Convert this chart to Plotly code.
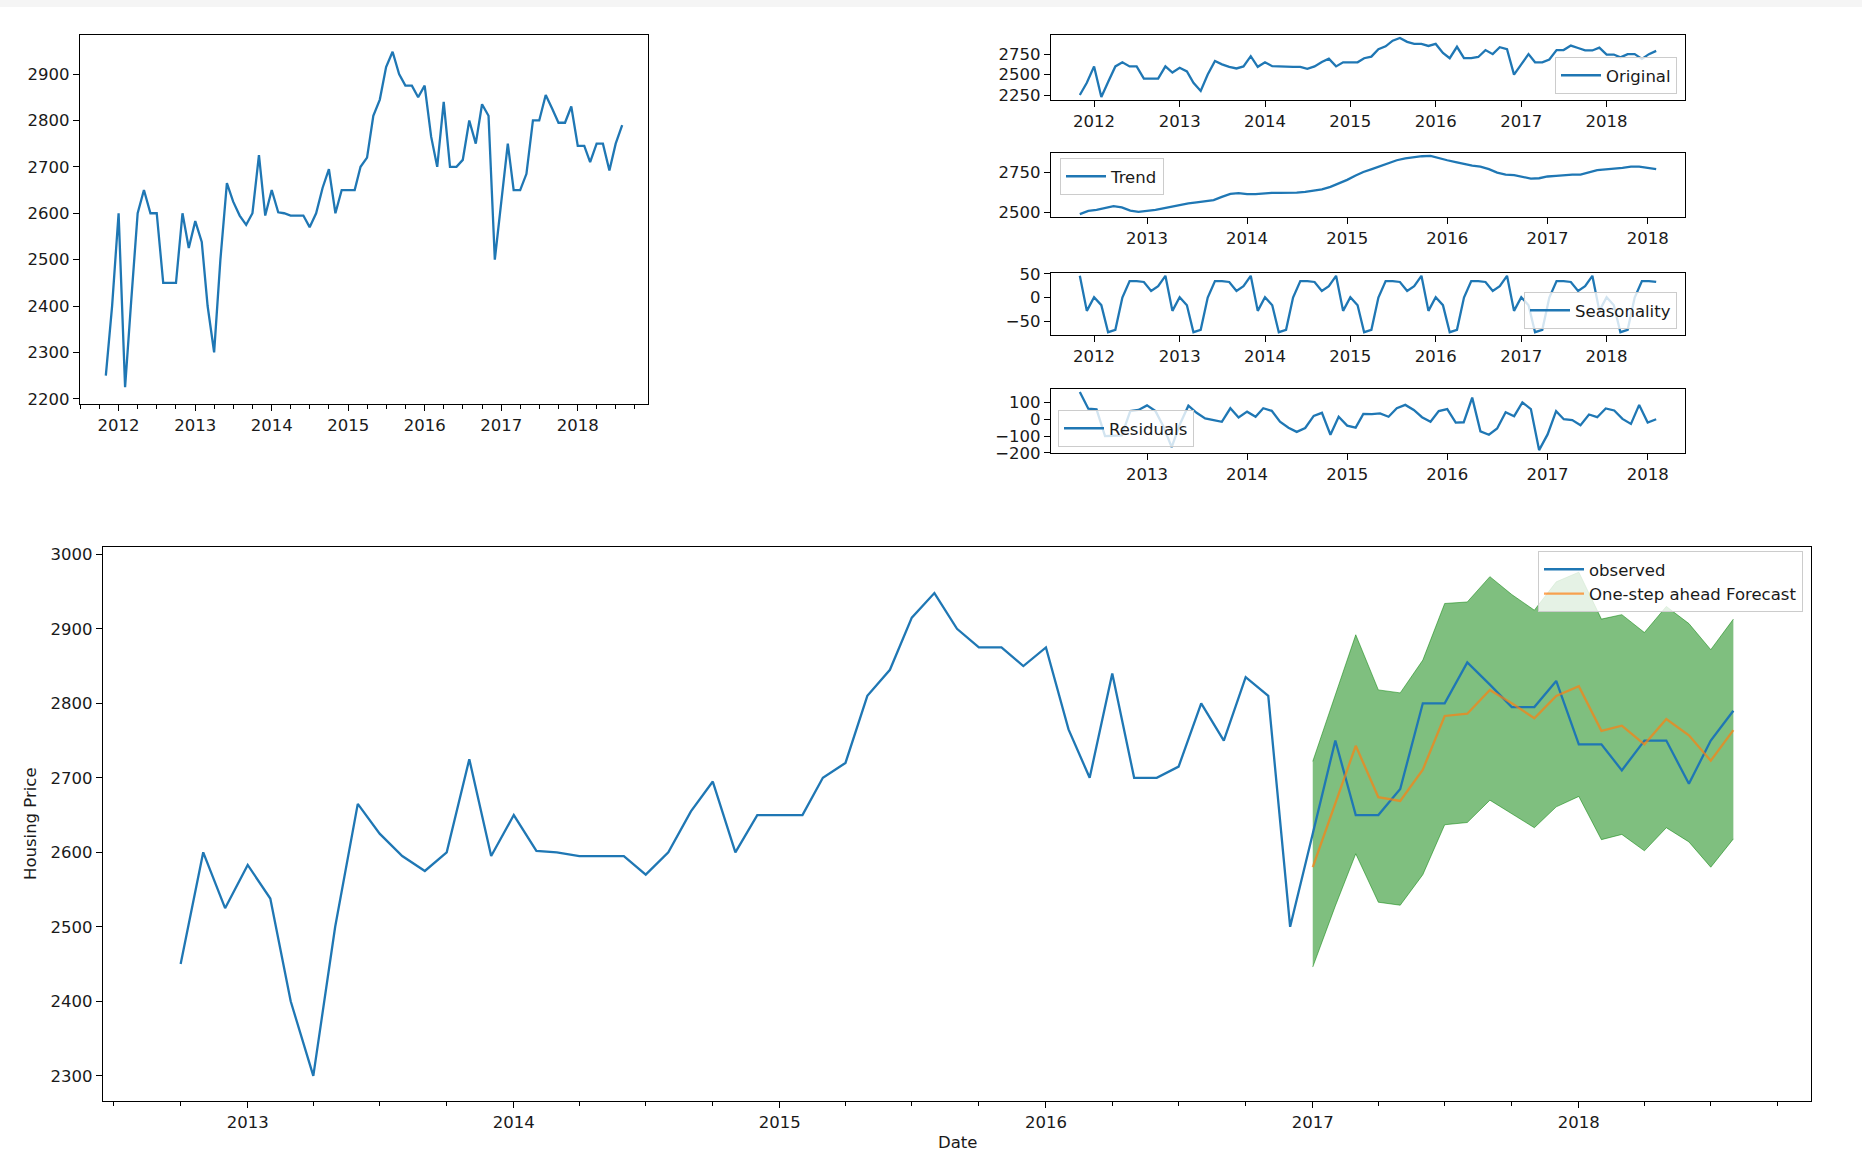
import pandas as pd
import plotly.graph_objects as go

# ---------------- data ----------------
obs_start, obs_end = "2011-11-01", "2018-08-01"
observed = [2250, 2400,
            2600, 2225, 2410, 2600, 2650, 2600, 2600, 2450, 2450, 2450, 2600, 2525,
            2583, 2538, 2400, 2300, 2500, 2665, 2625, 2595, 2575, 2600, 2725, 2595,
            2650, 2602, 2600, 2595, 2595, 2595, 2570, 2600, 2655, 2695, 2600, 2650,
            2650, 2650, 2700, 2720, 2810, 2845, 2915, 2948, 2900, 2875, 2875, 2850,
            2875, 2765, 2700, 2840, 2700, 2700, 2715, 2800, 2750, 2835, 2810, 2500,
            2625, 2750, 2650, 2650, 2685, 2800, 2800, 2855, 2825, 2795, 2795, 2830,
            2745, 2745, 2710, 2750, 2750, 2692, 2750, 2790]

trend_start, trend_end = "2012-05-01", "2018-02-01"
trend = [2490, 2510, 2516, 2526, 2540, 2532, 2512, 2504,
         2508, 2516, 2526, 2537, 2547, 2557, 2563, 2569, 2577, 2597, 2616, 2620,
         2614, 2614, 2618, 2622, 2622, 2622, 2624, 2628, 2634, 2644, 2659, 2679,
         2703, 2730, 2752, 2770, 2789, 2807, 2825, 2837, 2845, 2850, 2852, 2841,
         2825, 2813, 2801, 2791, 2785, 2770, 2748, 2736, 2732, 2722, 2711, 2713,
         2724, 2728, 2734, 2736, 2736, 2750, 2764, 2768, 2772, 2778, 2785, 2785,
         2778, 2770]

seasonal = [46, -28,
            1, -16, -73, -68, 0, 35, 35, 33, 14, 24, 46, -28,
            1, -16, -73, -68, 0, 35, 35, 33, 14, 24, 46, -28,
            1, -16, -73, -68, 0, 35, 35, 33, 14, 24, 46, -28,
            1, -16, -73, -68, 0, 35, 35, 33, 14, 24, 46, -28,
            1, -16, -73, -68, 0, 35, 35, 33, 14, 24, 46, -28,
            1, -16, -73, -68, 0, 35, 35, 33, 14, 24, 46, -28,
            1, -16, -73, -68, 0, 35, 35, 33]

residuals = [162, 62, 58, -100, -98, -96, 48, 55,
             82, 48, -40, -165, -30, 80, 38, 5, -5, -15, 65, 10,
             45, 15, 65, 50, -15, -50, -75, -52, 20, 38, -92, 15,
             -38, -50, 32, 30, 35, 15, 65, 85, 55, 12, -15, 48,
             60, -20, -18, 128, -72, -92, -55, 42, 18, 100, 60, -183,
             -90, 48, 0, -5, -36, 28, 12, 64, 52, 2, -28, 85,
             -20, 0]

fc_start, fc_end = "2017-01-01", "2018-08-01"
forecast = [2580, 2665, 2743, 2674, 2669, 2711, 2783, 2786, 2818, 2800, 2780, 2810,
            2823, 2763, 2770, 2745, 2779, 2757, 2723, 2764]
ci_lower = [2446, 2528, 2598, 2533, 2529, 2570, 2637, 2640, 2670, 2652, 2633, 2661,
            2675, 2617, 2624, 2602, 2633, 2614, 2580, 2618]
ci_upper = [2722, 2811, 2892, 2818, 2814, 2858, 2934, 2936, 2970, 2946, 2925, 2963,
            2976, 2913, 2919, 2895, 2930, 2907, 2872, 2913]

bottom_start = "2012-10-01"

# ---------------- helpers ----------------
obs_dates = pd.date_range(obs_start, obs_end, freq="MS")
trend_dates = pd.date_range(trend_start, trend_end, freq="MS")
fc_dates = pd.date_range(fc_start, fc_end, freq="MS")
obs_series = pd.Series(observed, index=obs_dates)
obs_bottom = obs_series[bottom_start:]

W, H = 1862, 1160


def dx(l, r):
    return [l / W, r / W]


def dy(t, b):
    return [1 - b / H, 1 - t / H]


def pad(lo, hi, f=0.05):
    s = hi - lo
    return [lo - f * s, hi + f * s]


def pad_dates(d0, d1, f=0.05):
    d0, d1 = pd.Timestamp(d0), pd.Timestamp(d1)
    s = d1 - d0
    return [(d0 - s * f).strftime("%Y-%m-%d %H:%M"), (d1 + s * f).strftime("%Y-%m-%d %H:%M")]


BLUE = "#1f77b4"
FONT = dict(family="DejaVu Sans", size=16.5, color="#1a1a1a")
LW = 2.3

fig = go.Figure()

# top-left
fig.add_trace(go.Scatter(x=obs_dates, y=observed, mode="lines", line=dict(color=BLUE, width=LW),
                         xaxis="x", yaxis="y", showlegend=False))
# decomposition panels
fig.add_trace(go.Scatter(x=obs_dates, y=observed, mode="lines", line=dict(color=BLUE, width=LW),
                         xaxis="x2", yaxis="y2", name="Original", legend="legend2"))
fig.add_trace(go.Scatter(x=trend_dates, y=trend, mode="lines", line=dict(color=BLUE, width=LW),
                         xaxis="x3", yaxis="y3", name="Trend", legend="legend3"))
fig.add_trace(go.Scatter(x=obs_dates, y=seasonal, mode="lines", line=dict(color=BLUE, width=LW),
                         xaxis="x4", yaxis="y4", name="Seasonality", legend="legend4"))
fig.add_trace(go.Scatter(x=trend_dates, y=residuals, mode="lines", line=dict(color=BLUE, width=LW),
                         xaxis="x5", yaxis="y5", name="Residuals", legend="legend5"))
# bottom forecast chart
fig.add_trace(go.Scatter(x=fc_dates, y=ci_lower, mode="lines", line=dict(color="rgba(0,128,0,0.5)", width=1),
                         xaxis="x6", yaxis="y6", showlegend=False))
fig.add_trace(go.Scatter(x=fc_dates, y=ci_upper, mode="lines", line=dict(color="rgba(0,128,0,0.5)", width=1),
                         fill="tonexty", fillcolor="rgba(0,128,0,0.5)",
                         xaxis="x6", yaxis="y6", showlegend=False))
fig.add_trace(go.Scatter(x=obs_bottom.index, y=obs_bottom.values, mode="lines",
                         line=dict(color=BLUE, width=LW), xaxis="x6", yaxis="y6",
                         name="observed", legend="legend"))
fig.add_trace(go.Scatter(x=fc_dates, y=forecast, mode="lines",
                         line=dict(color="rgba(255,127,14,0.7)", width=LW), xaxis="x6", yaxis="y6",
                         name="One-step ahead Forecast", legend="legend"))

axis_base = dict(showline=True, linecolor="black", linewidth=1.2, mirror=True,
                 ticks="outside", ticklen=6, tickwidth=1.2, tickcolor="black",
                 showgrid=False, zeroline=False, tickfont=FONT, fixedrange=True,
                 automargin=False)
minor = dict(ticks="outside", ticklen=3.5, tickwidth=0.9, tickcolor="black",
             dtick="M3", tick0="2012-01-01", showgrid=False)


def xdate(domain, rng, anchor, with_minor=False):
    d = dict(axis_base, type="date", domain=domain, range=rng, anchor=anchor,
             tickformat="%Y", dtick="M12", tick0="2012-01-01")
    if with_minor:
        d["minor"] = minor
    return d


def yax(domain, rng, anchor, dtick, tick0=0):
    return dict(axis_base, domain=domain, range=rng, anchor=anchor, dtick=dtick, tick0=tick0)


full_x = pad_dates(obs_start, obs_end)
trend_x = pad_dates(trend_start, trend_end)
bottom_x = pad_dates(bottom_start, obs_end)
obs_y = pad(min(observed), max(observed))
bot_y = pad(min(min(obs_bottom.values), min(ci_lower)), max(max(obs_bottom.values), max(ci_upper)))

TR_L, TR_R = 1051, 1685
leg = dict(bgcolor="rgba(255,255,255,0.8)", bordercolor="#cccccc", borderwidth=1,
           font=FONT, traceorder="normal", itemwidth=40)

fig.update_layout(
    template="none",
    width=W, height=H, margin=dict(l=0, r=0, t=0, b=0, pad=0, autoexpand=False),
    paper_bgcolor="white", plot_bgcolor="white",
    xaxis=xdate(dx(80, 648), full_x, "y", True),
    yaxis=yax(dy(35, 404), obs_y, "x", 100),
    xaxis2=xdate(dx(TR_L, TR_R), full_x, "y2"),
    yaxis2=yax(dy(35, 100), obs_y, "x2", 250),
    xaxis3=xdate(dx(TR_L, TR_R), trend_x, "y3"),
    yaxis3=yax(dy(153, 217), pad(min(trend), max(trend)), "x3", 250),
    xaxis4=xdate(dx(TR_L, TR_R), full_x, "y4"),
    yaxis4=yax(dy(273, 335), pad(min(seasonal), max(seasonal)), "x4", 50),
    xaxis5=xdate(dx(TR_L, TR_R), trend_x, "y5"),
    yaxis5=yax(dy(389, 453), pad(min(residuals), max(residuals)), "x5", 100),
    xaxis6=xdate(dx(103, 1811), bottom_x, "y6", True),
    yaxis6=yax(dy(547, 1101), bot_y, "x6", 100),
    legend=dict(leg, x=1803 / W, y=1 - 551 / H, xanchor="right", yanchor="top"),
    legend2=dict(leg, x=1677 / W, y=1 - 94 / H, xanchor="right", yanchor="bottom"),
    legend3=dict(leg, x=1060 / W, y=1 - 158 / H, xanchor="left", yanchor="top"),
    legend4=dict(leg, x=1677 / W, y=1 - 329 / H, xanchor="right", yanchor="bottom"),
    legend5=dict(leg, x=1058 / W, y=1 - 447 / H, xanchor="left", yanchor="bottom"),
    shapes=[dict(type="rect", xref="paper", yref="paper", x0=0, x1=1, y0=1 - 7 / H, y1=1,
                 fillcolor="#f5f5f5", line=dict(width=0), layer="below")],
    annotations=[
        dict(text="Date", x=957 / W, y=1 - 1142 / H, xref="paper", yref="paper",
             showarrow=False, font=FONT, xanchor="center", yanchor="middle"),
        dict(text="Housing Price", x=30 / W, y=1 - 824 / H, xref="paper", yref="paper",
             showarrow=False, font=FONT, textangle=-90, xanchor="center", yanchor="middle"),
    ],
)

fig.write_html("out.html", include_plotlyjs=True, full_html=True,
               config={"displayModeBar": False},
               post_script="document.body.style.margin='0';document.body.style.overflow='hidden';")
